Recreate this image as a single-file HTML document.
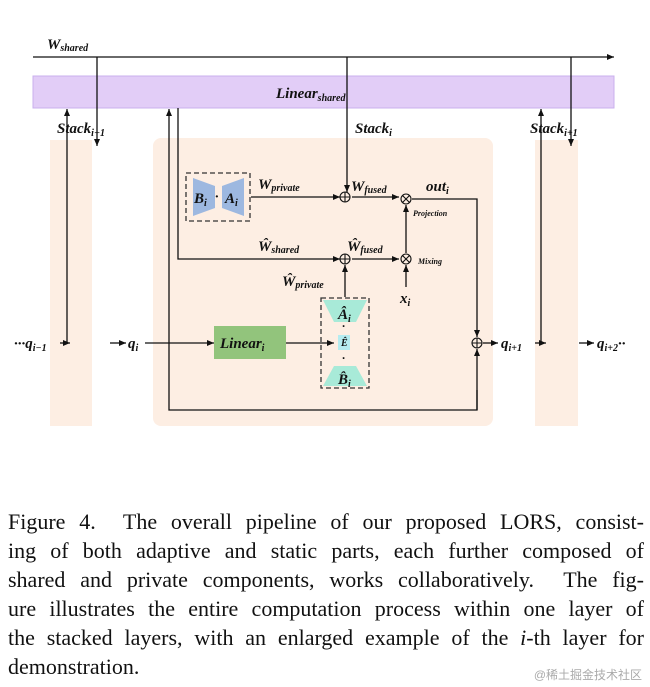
<!DOCTYPE html>
<html><head><meta charset="utf-8"><style>
body{margin:0;background:#fff;width:650px;height:687px;position:relative;overflow:hidden}
svg{position:absolute;left:0;top:0}
.t{font-family:"Liberation Serif",serif;font-weight:bold;font-style:italic;fill:#111}
.cap{position:absolute;left:8px;top:507px;width:636px;font-family:"Liberation Serif",serif;font-size:22px;line-height:29px;color:#111}
.cap div{text-align:justify;text-align-last:justify;white-space:nowrap}
.cap div.l{text-align-last:left}
.wm{position:absolute;right:8px;bottom:4px;font-family:"Liberation Sans","Noto Sans CJK SC",sans-serif;font-size:12px;color:#aaa}
</style></head><body>
<svg width="650" height="460" viewBox="0 0 650 460">
<defs><marker id="a" markerWidth="8" markerHeight="8" refX="7" refY="4" orient="auto" markerUnits="userSpaceOnUse"><path d="M0,1 L7,4 L0,7z" fill="#111"/></marker></defs>
<rect x="50" y="140" width="42" height="286" fill="#fdeee3"/>
<rect x="153" y="138" width="340" height="288" rx="8" fill="#fdeee3"/>
<rect x="535" y="140" width="43" height="286" fill="#fdeee3"/>
<rect x="33" y="76" width="581" height="32" fill="#e2cdf7" stroke="#c9b0ee"/>
<text class="t" x="276" y="98" font-size="15">Linear<tspan font-size="10" dy="3">shared</tspan></text>
<text class="t" x="47" y="49" font-size="15">W<tspan font-size="10" dy="2">shared</tspan></text>
<g stroke="#111" stroke-width="1.3" fill="none">
<line x1="33" y1="57" x2="614" y2="57" marker-end="url(#a)"/>
<line x1="97" y1="57" x2="97" y2="146" marker-end="url(#a)"/>
<line x1="347" y1="57" x2="347" y2="192" marker-end="url(#a)"/>
<line x1="571" y1="57" x2="571" y2="146" marker-end="url(#a)"/>
<line x1="67" y1="343" x2="67" y2="109" marker-end="url(#a)"/>
<line x1="541" y1="343" x2="541" y2="109" marker-end="url(#a)"/>
<polyline points="477,390 477,410 169,410 169,109" marker-end="url(#a)"/>
<line x1="477" y1="410" x2="477" y2="349" marker-end="url(#a)"/>
<polyline points="178,108 178,259 340,259" marker-end="url(#a)"/>
<line x1="251" y1="197" x2="340" y2="197" marker-end="url(#a)"/>
<line x1="352" y1="197" x2="399" y2="197" marker-end="url(#a)"/>
<line x1="352" y1="259" x2="399" y2="259" marker-end="url(#a)"/>
<line x1="406" y1="253" x2="406" y2="205" marker-end="url(#a)"/>
<line x1="406" y1="287" x2="406" y2="265" marker-end="url(#a)"/>
<line x1="345" y1="297" x2="345" y2="265" marker-end="url(#a)"/>
<polyline points="412,199 477,199 477,337" marker-end="url(#a)"/>
<line x1="60" y1="343" x2="70" y2="343" marker-end="url(#a)"/>
<line x1="110" y1="343" x2="126" y2="343" marker-end="url(#a)"/>
<line x1="145" y1="343" x2="214" y2="343" marker-end="url(#a)"/>
<line x1="286" y1="343" x2="334" y2="343" marker-end="url(#a)"/>
<line x1="483" y1="343" x2="498" y2="343" marker-end="url(#a)"/>
<line x1="535" y1="343" x2="546" y2="343" marker-end="url(#a)"/>
<line x1="579" y1="343" x2="594" y2="343" marker-end="url(#a)"/>
<rect x="186" y="173" width="64" height="48" stroke-dasharray="5,3" stroke="#333"/>
<rect x="321" y="298" width="48" height="90" stroke-dasharray="5,3" stroke="#333"/>
</g>
<g fill="none" stroke="#111" stroke-width="1.1">
<circle cx="345" cy="197" r="5"/><path d="M340,197h10M345,192v10"/>
<circle cx="345" cy="259" r="5"/><path d="M340,259h10M345,254v10"/>
<circle cx="477" cy="343" r="5"/><path d="M472,343h10M477,338v10"/>
<circle cx="406" cy="199" r="5"/><path d="M402.5,195.5l7,7M409.5,195.5l-7,7"/>
<circle cx="406" cy="259" r="5"/><path d="M402.5,255.5l7,7M409.5,255.5l-7,7"/>
</g>
<polygon points="193,178 215,186 215,208 193,216" fill="#9db8e0"/>
<polygon points="244,178 222,186 222,208 244,216" fill="#9db8e0"/>
<text class="t" x="194" y="203" font-size="15">B<tspan font-size="10" dy="3">i</tspan></text>
<text class="t" x="215" y="201" font-size="14">·</text>
<text class="t" x="225" y="203" font-size="15">A<tspan font-size="10" dy="3">i</tspan></text>
<rect x="214" y="326" width="72" height="33" fill="#92c47c"/>
<text class="t" x="220" y="348" font-size="15">Linear<tspan font-size="10" dy="3">i</tspan></text>
<polygon points="323,300 367,300 356,322 334,322" fill="#a8ead8"/>
<polygon points="334,366 356,366 367,386 323,386" fill="#a8ead8"/>
<rect x="338" y="335" width="12" height="15" fill="#b6ecf0"/>
<text class="t" x="341" y="346" font-size="10">Ê</text>
<text class="t" x="338" y="319" font-size="15">Â<tspan font-size="10" dy="3">i</tspan></text>
<text class="t" x="338" y="384" font-size="15">B̂<tspan font-size="10" dy="3">i</tspan></text>
<text class="t" x="342" y="330" font-size="12">·</text>
<text class="t" x="342" y="362" font-size="12">·</text>
<text class="t" x="57" y="133" font-size="15">Stack<tspan font-size="10" dy="3">i−1</tspan></text>
<text class="t" x="355" y="133" font-size="15">Stack<tspan font-size="10" dy="3">i</tspan></text>
<text class="t" x="530" y="133" font-size="15">Stack<tspan font-size="10" dy="3">i+1</tspan></text>
<text class="t" x="258" y="189" font-size="15">W<tspan font-size="10" dy="2">private</tspan></text>
<text class="t" x="351" y="191" font-size="15">W<tspan font-size="10" dy="2">fused</tspan></text>
<text class="t" x="426" y="191" font-size="15">out<tspan font-size="10" dy="3">i</tspan></text>
<text class="t" x="413" y="216" font-size="8">Projection</text>
<text class="t" x="258" y="251" font-size="15">Ŵ<tspan font-size="10" dy="2">shared</tspan></text>
<text class="t" x="347" y="251" font-size="15">Ŵ<tspan font-size="10" dy="2">fused</tspan></text>
<text class="t" x="418" y="264" font-size="8">Mixing</text>
<text class="t" x="282" y="286" font-size="15">Ŵ<tspan font-size="10" dy="2">private</tspan></text>
<text class="t" x="400" y="303" font-size="15">x<tspan font-size="10" dy="3">i</tspan></text>
<text class="t" x="14" y="348" font-size="15">···q<tspan font-size="10" dy="3">i−1</tspan></text>
<text class="t" x="128" y="348" font-size="15">q<tspan font-size="10" dy="3">i</tspan></text>
<text class="t" x="501" y="348" font-size="15">q<tspan font-size="10" dy="3">i+1</tspan></text>
<text class="t" x="597" y="348" font-size="15">q<tspan font-size="10" dy="3">i+2</tspan><tspan dy="-3">··</tspan></text>
</svg>
<div class="cap">
<div>Figure 4.&nbsp; The overall pipeline of our proposed LORS, consist-</div>
<div>ing of both adaptive and static parts, each further composed of</div>
<div>shared and private components, works collaboratively.&nbsp; The fig-</div>
<div>ure illustrates the entire computation process within one layer of</div>
<div>the stacked layers, with an enlarged example of the <i>i</i>-th layer for</div>
<div class="l">demonstration.</div>
</div>
<div class="wm">@稀土掘金技术社区</div>
</body></html>
